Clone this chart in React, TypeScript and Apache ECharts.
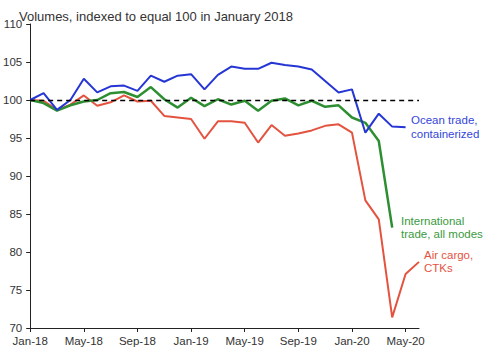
import React, { useEffect, useRef } from "react";
import * as echarts from "echarts";

const months = (() => {
  const names = ["Jan", "Feb", "Mar", "Apr", "May", "Jun", "Jul", "Aug", "Sep", "Oct", "Nov", "Dec"];
  const out: string[] = [];
  for (const y of ["18", "19", "20"]) for (const m of names) out.push(`${m}-${y}`);
  return out.slice(0, 30);
})();

const oceanTrade = [
  100, 100.9, 98.7, 100.0, 102.8, 101.0, 101.8, 101.9, 101.2, 103.2,
  102.4, 103.2, 103.4, 101.4, 103.3, 104.4, 104.1, 104.1, 104.9, 104.6,
  104.4, 104.0, 102.5, 101.0, 101.4, 95.7, 98.2, 96.5, 96.4,
];
const intlTrade = [
  100, 99.6, 98.6, 99.3, 99.8, 100.0, 100.9, 101.05, 100.4, 101.7,
  100.1, 99.0, 100.3, 99.2, 100.1, 99.4, 99.9, 98.6, 99.9, 100.2,
  99.3, 99.9, 99.1, 99.3, 97.7, 97.0, 94.6, 83.2,
];
const airCargo = [
  100, 99.9, 98.7, 99.4, 100.6, 99.25, 99.7, 100.6, 99.8, 99.9,
  97.9, 97.7, 97.5, 94.9, 97.2, 97.2, 97.0, 94.4, 96.7, 95.3,
  95.6, 96.0, 96.6, 96.8, 95.7, 86.8, 84.3, 71.4, 77.1, 78.7,
];

const BLUE = "#2536d4";
const GREEN = "#2e8f32";
const RED = "#e4533f";
const FONT = "Liberation Sans";

export default function App() {
  const ref = useRef<HTMLDivElement>(null);
  useEffect(() => {
    if (!ref.current) return;
    const chart = echarts.init(ref.current, undefined, { renderer: "svg" });
    chart.setOption({
      animation: false,
      textStyle: { fontFamily: FONT },
      grid: { left: 30, right: 81, top: 24, bottom: 24, containLabel: false },
      title: {
        text: "Volumes, indexed to equal 100 in January 2018",
        left: 14,
        top: 5,
        textStyle: { fontSize: 13, fontWeight: "normal", color: "#333", fontFamily: FONT },
      },
      xAxis: {
        type: "category",
        data: months,
        boundaryGap: false,
        axisLine: { lineStyle: { color: "#222", width: 1 } },
        axisTick: { interval: 3, length: 4, lineStyle: { color: "#222" } },
        axisLabel: { interval: 3, color: "#333", fontSize: 11.5, margin: 7, fontFamily: FONT },
        splitLine: { show: false },
      },
      yAxis: {
        type: "value",
        min: 70,
        max: 110,
        interval: 5,
        axisLine: { show: true, lineStyle: { color: "#222", width: 1 } },
        axisTick: { show: true, length: 4, lineStyle: { color: "#222" } },
        axisLabel: { color: "#333", fontSize: 11.5, margin: 8, fontFamily: FONT },
        splitLine: { show: false },
      },
      series: [
        {
          type: "line",
          data: airCargo,
          showSymbol: false,
          lineStyle: { color: RED, width: 2 },
          itemStyle: { color: RED },
          markLine: {
            silent: true,
            symbol: ["none", "none"],
            label: { show: false },
            lineStyle: { color: "#000", type: [5, 4], width: 1.3 },
            data: [{ yAxis: 100 }],
          },
        },
        {
          type: "line",
          data: intlTrade,
          showSymbol: false,
          lineStyle: { color: GREEN, width: 2.5 },
          itemStyle: { color: GREEN },
        },
        {
          type: "line",
          data: oceanTrade,
          showSymbol: false,
          lineStyle: { color: BLUE, width: 2 },
          itemStyle: { color: BLUE },
        },
      ],
      graphic: [
        {
          type: "text",
          left: 411,
          top: 113,
          style: { text: "Ocean trade,\ncontainerized", fill: "#3446dc", font: `11.5px ${FONT}`, lineHeight: 14 },
        },
        {
          type: "text",
          left: 401,
          top: 214,
          style: { text: "International\ntrade, all modes", fill: "#3a9a3e", font: `11.5px ${FONT}`, lineHeight: 13.5 },
        },
        {
          type: "text",
          left: 424,
          top: 249,
          style: { text: "Air cargo,\nCTKs", fill: "#e4533f", font: `11.5px ${FONT}`, lineHeight: 12.5 },
        },
      ],
    });
    return () => chart.dispose();
  }, []);
  return (
    <div
      ref={ref}
      style={{ position: "fixed", left: 0, top: 0, width: 500, height: 352, background: "#fff" }}
    />
  );
}
